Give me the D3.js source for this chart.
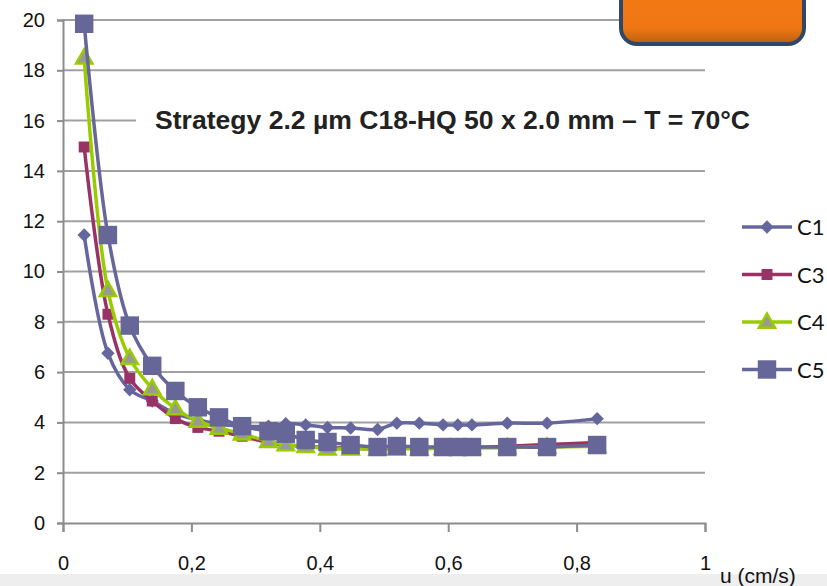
<!DOCTYPE html>
<html><head><meta charset="utf-8">
<script src="https://cdn.jsdelivr.net/npm/d3@7"></script>
<style>
html,body{margin:0;padding:0;background:#fff;}
svg{display:block;}
</style></head>
<body>
<svg id="chart" width="827" height="586"></svg>
<script>
const uValues = [0.033, 0.07, 0.104, 0.139, 0.175, 0.21, 0.243, 0.279, 0.32, 0.347, 0.378, 0.412, 0.448, 0.49, 0.52, 0.555, 0.592, 0.615, 0.637, 0.692, 0.754, 0.832];
const c1 = [11.45, 6.75, 5.3, 4.85, 4.35, 4.1, 3.95, 3.85, 3.85, 3.95, 3.9, 3.8, 3.78, 3.72, 3.97, 3.97, 3.9, 3.9, 3.9, 3.97, 3.97, 4.15];
const c3 = [14.95, 8.3, 5.75, 4.85, 4.15, 3.8, 3.65, 3.45, 3.2, 3.1, 3.05, 3.0, 2.98, 2.95, 3.0, 3.0, 2.98, 3.0, 3.0, 3.05, 3.12, 3.2];
const c4 = [18.5, 9.25, 6.55, 5.35, 4.55, 4.05, 3.78, 3.55, 3.25, 3.12, 3.05, 2.95, 2.95, 2.95, 2.95, 2.95, 2.98, 2.98, 2.98, 3.0, 3.02, 3.05];
const c5 = [19.85, 11.45, 7.85, 6.25, 5.25, 4.6, 4.2, 3.85, 3.65, 3.55, 3.3, 3.22, 3.1, 3.02, 3.06, 3.02, 3.02, 3.02, 3.02, 3.02, 3.02, 3.1];
const seriesNames = ["C1", "C3", "C4", "C5"];
const xTicks = [0, 0.2, 0.4, 0.6, 0.8, 1];
const xTickLabels = ["0", "0,2", "0,4", "0,6", "0,8", "1"];
const yTicks = [0, 2, 4, 6, 8, 10, 12, 14, 16, 18, 20];
const titleText = "Strategy 2.2 µm C18-HQ 50 x 2.0 mm – T = 70°C";
const xAxisTitle = "u (cm/s)";

const series = [
  {name: seriesNames[0], values: c1, color: "#66669e", marker: "diamond", size: 90, fill: "#66669e", stroke: "none"},
  {name: seriesNames[1], values: c3, color: "#993366", marker: "square", size: 120, fill: "#993366", stroke: "none"},
  {name: seriesNames[2], values: c4, color: "#99cc00", marker: "triangle", size: 115, fill: "#999999", stroke: "#99cc00"},
  {name: seriesNames[3], values: c5, color: "#666699", marker: "square", size: 340, fill: "#666699", stroke: "none"}
];

const svg = d3.select("#chart");
const x = d3.scaleLinear().domain([0, 1]).range([63, 705]);
const y = d3.scaleLinear().domain([0, 20]).range([523, 20]);
const FONT = "'Liberation Sans Narrow','Liberation Sans',Arial,sans-serif";

// bottom gray band
svg.append("rect").attr("x", 0).attr("y", 574).attr("width", 827).attr("height", 12).attr("fill", "#eeeeee");

// gridlines
svg.append("g").selectAll("line").data(yTicks.filter(d => d > 0)).join("line")
  .attr("x1", x(0)).attr("x2", x(1))
  .attr("y1", d => y(d)).attr("y2", d => y(d))
  .attr("stroke", "#a0a0a0").attr("stroke-width", 2);

// title with white backing
const titleG = svg.append("g");
titleG.append("rect").attr("x", 136).attr("y", y(16) - 20).attr("width", 640).attr("height", 40).attr("fill", "#fff");
titleG.append("text").attr("x", 155).attr("y", 129)
  .attr("font-family", FONT).attr("font-weight", "bold").attr("font-size", 26.5)
  .attr("textLength", 595).attr("lengthAdjust", "spacingAndGlyphs")
  .attr("fill", "#222").text(titleText);

// lines and markers
const line = d3.line().x((d, i) => x(uValues[i])).y(d => y(d)).curve(d3.curveCatmullRom.alpha(0.5));
const symType = {diamond: d3.symbolSquare, square: d3.symbolSquare, triangle: d3.symbolTriangle};
const rot = m => m === "diamond" ? " rotate(45)" : "";

series.forEach(s => {
  const g = svg.append("g");
  g.append("path").attr("d", line(s.values)).attr("fill", "none")
    .attr("stroke", s.color).attr("stroke-width", 3.5).attr("stroke-linejoin", "round");
  g.selectAll("path.m").data(s.values).join("path").attr("class", "m")
    .attr("transform", (d, i) => `translate(${x(uValues[i])},${y(d) + (s.marker === "triangle" ? 1 : 0)})${rot(s.marker)}`)
    .attr("d", d3.symbol().type(symType[s.marker]).size(s.size))
    .attr("fill", s.fill).attr("stroke", s.stroke).attr("stroke-width", s.stroke === "none" ? 0 : 2.5);
});

// axes
const axisColor = "#8c8c8c";
const yAxis = svg.append("g").attr("transform", `translate(${x(0)},0)`)
  .call(d3.axisLeft(y).tickValues(yTicks).tickSize(6).tickFormat(d3.format("d")));
const xAxis = svg.append("g").attr("transform", `translate(0,${y(0)})`)
  .call(d3.axisBottom(x).tickValues(xTicks).tickSize(9).tickFormat((d, i) => xTickLabels[i]));
[yAxis, xAxis].forEach(a => {
  a.select(".domain").attr("stroke", axisColor).attr("stroke-width", 2);
  a.selectAll(".tick line").attr("stroke", axisColor).attr("stroke-width", 2);
  a.selectAll(".tick text").attr("font-family", FONT).attr("font-size", 20).attr("fill", "#111");
});
yAxis.selectAll(".tick text").attr("x", -18);
xAxis.selectAll(".tick text").attr("y", 33);

svg.append("text").attr("x", 720).attr("y", 583).attr("font-family", FONT).attr("font-size", 21)
  .attr("fill", "#111").text(xAxisTitle);

// orange box top-right
const defs = svg.append("defs");
const grad = defs.append("linearGradient").attr("id", "og").attr("x1", 0).attr("y1", 0).attr("x2", 0).attr("y2", 1);
grad.append("stop").attr("offset", "0%").attr("stop-color", "#f47a14");
grad.append("stop").attr("offset", "75%").attr("stop-color", "#f07614");
grad.append("stop").attr("offset", "100%").attr("stop-color", "#b8600f");
svg.append("rect").attr("x", 621).attr("y", -20).attr("width", 183).attr("height", 64).attr("rx", 16)
  .attr("fill", "url(#og)").attr("stroke", "#2f4868").attr("stroke-width", 4);

// legend
const leg = svg.append("g");
series.forEach((s, i) => {
  const ly = 227 + i * 47.5;
  leg.append("line").attr("x1", 742).attr("x2", 792).attr("y1", ly).attr("y2", ly)
    .attr("stroke", s.color).attr("stroke-width", 3.5);
  leg.append("path").attr("transform", `translate(767,${ly + (s.marker === "triangle" ? 1 : 0)})${rot(s.marker)}`)
    .attr("d", d3.symbol().type(symType[s.marker]).size(s.size))
    .attr("fill", s.fill).attr("stroke", s.stroke).attr("stroke-width", s.stroke === "none" ? 0 : 2.5);
  leg.append("text").attr("x", 797).attr("y", ly + 8).attr("font-family", "Lato,'Open Sans',sans-serif")
    .attr("font-size", 22).attr("fill", "#111").text(s.name);
});
</script>
</body></html>
